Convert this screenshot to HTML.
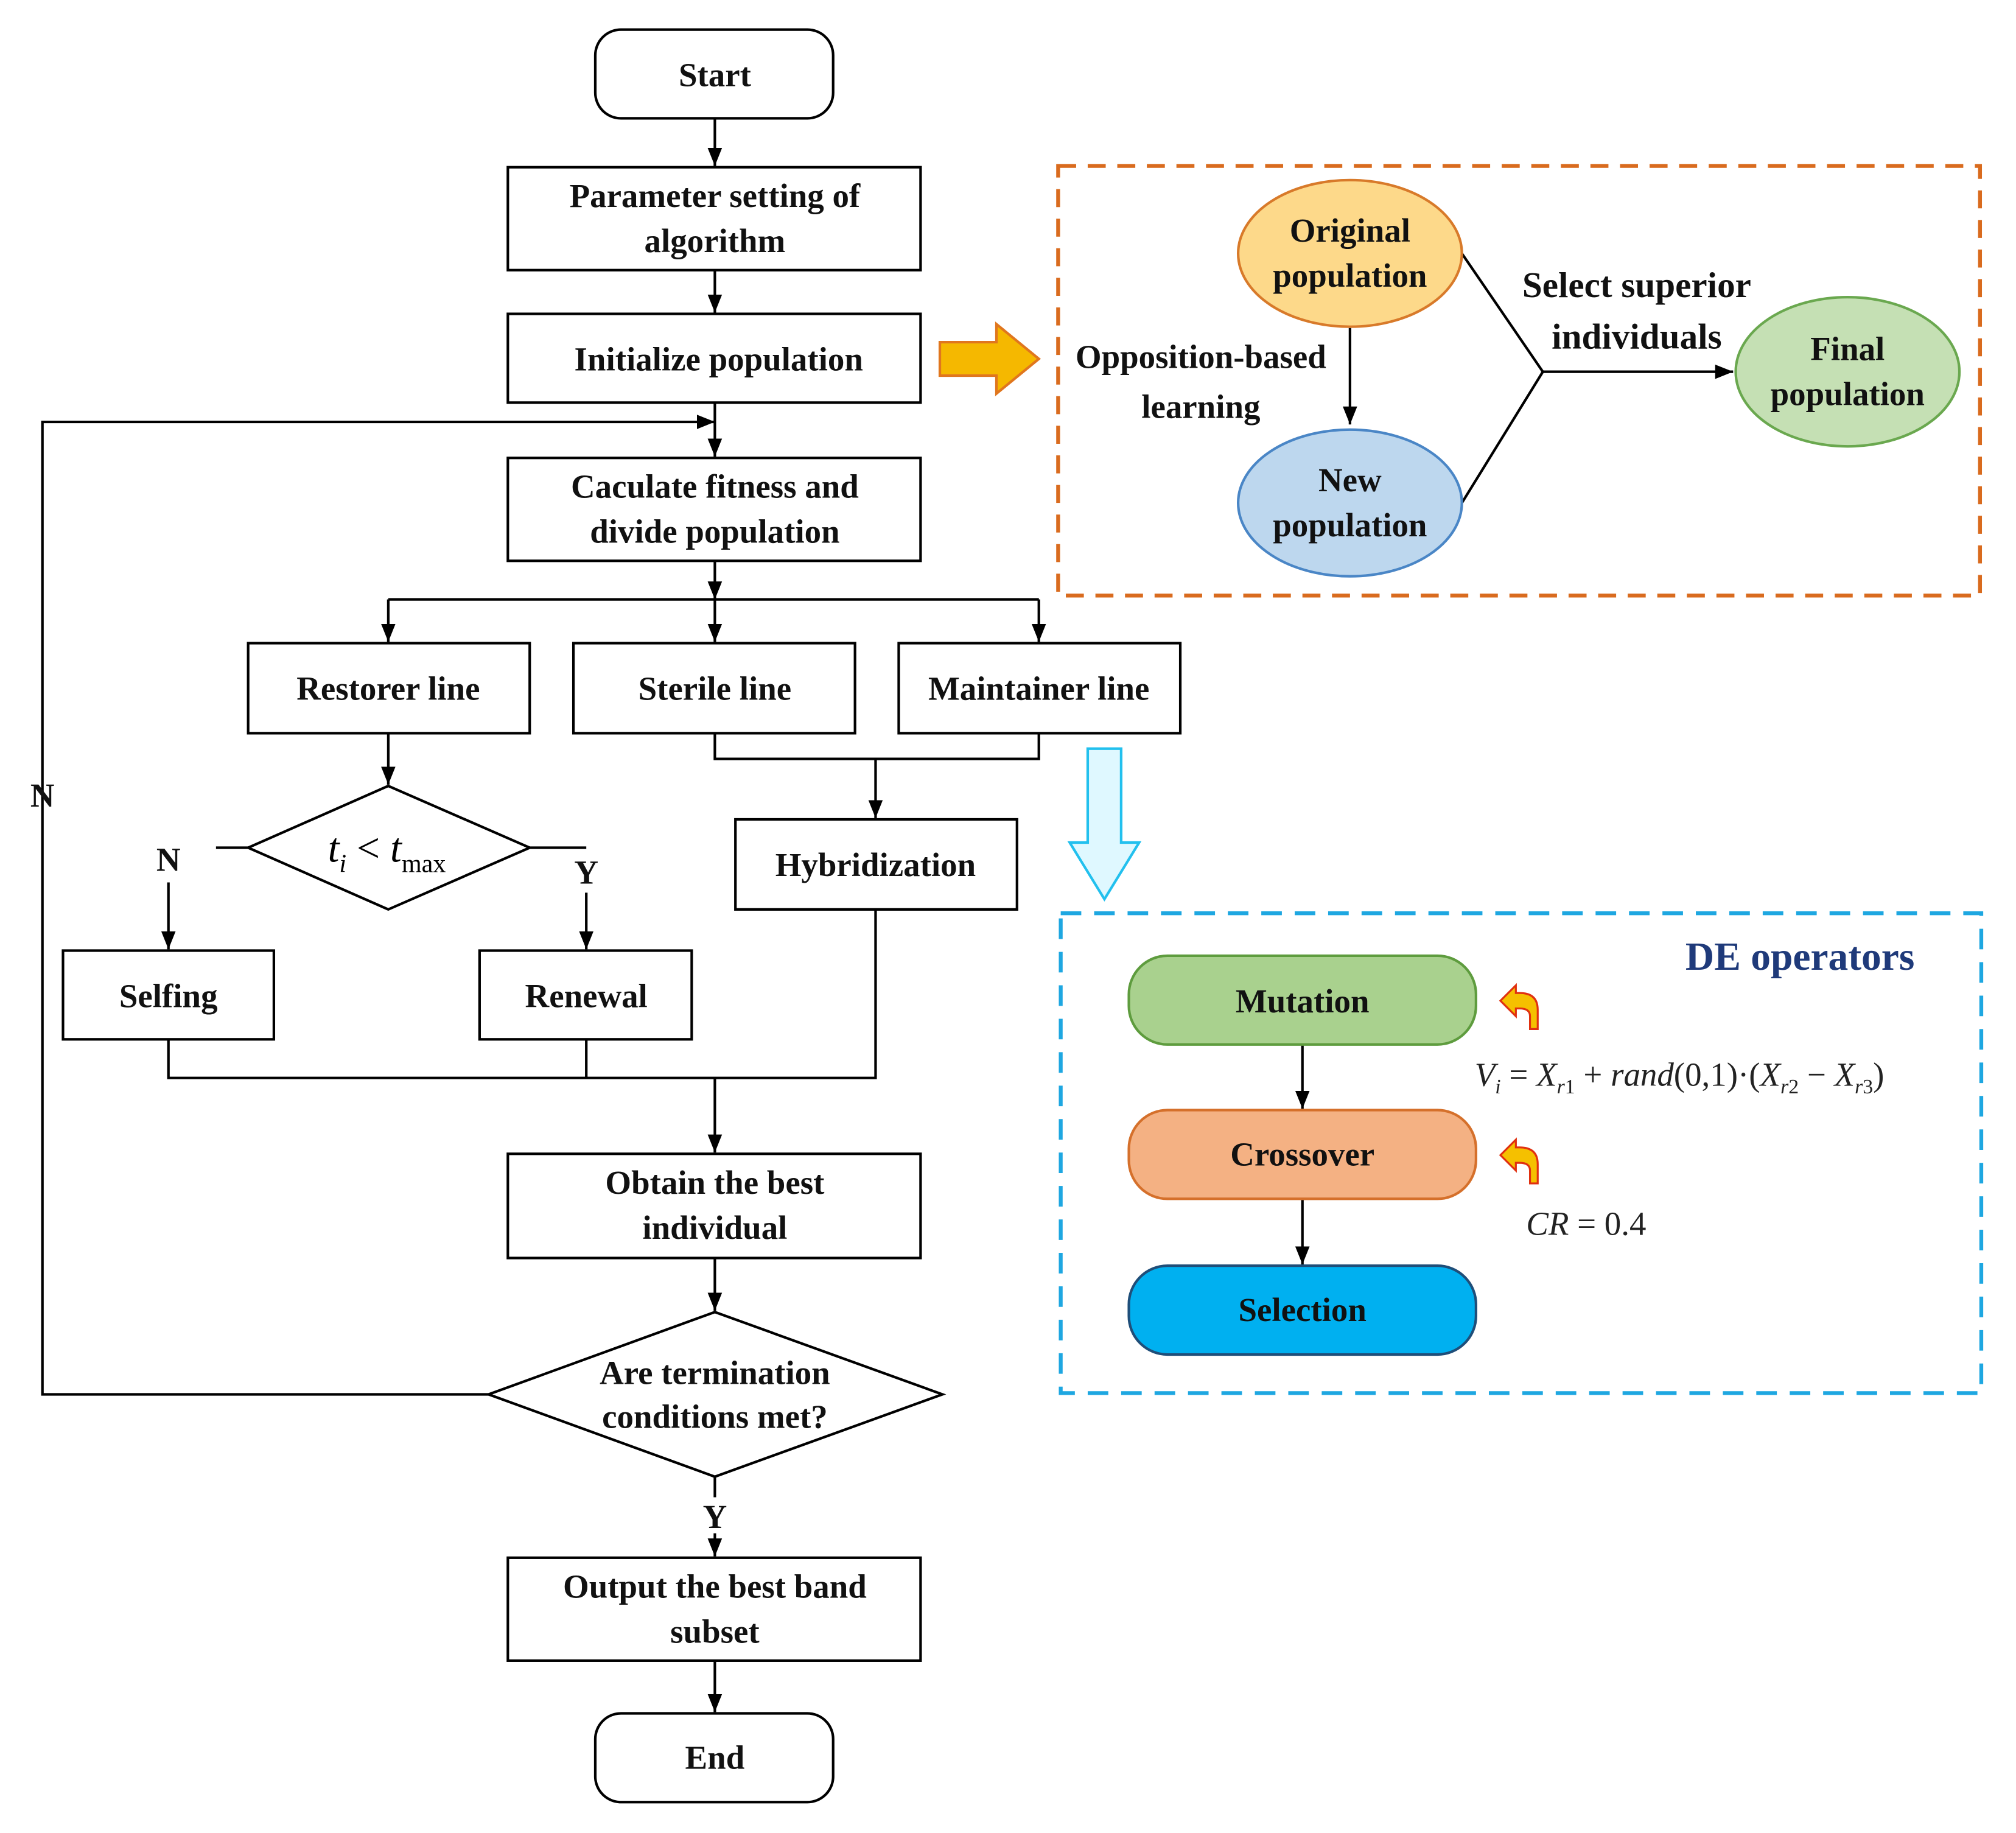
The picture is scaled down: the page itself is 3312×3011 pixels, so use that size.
<!DOCTYPE html>
<html><head><meta charset="utf-8"><style>html,body{margin:0;padding:0;background:#fff}svg{display:block}</style></head>
<body>
<svg width="3312" height="3011" viewBox="0 0 1568 1425" preserveAspectRatio="none" xmlns="http://www.w3.org/2000/svg" font-family="Liberation Serif, serif">
<defs>
<marker id="b" viewBox="0 0 10 10" refX="10" refY="5" markerWidth="14" markerHeight="14" markerUnits="userSpaceOnUse" orient="auto"><path d="M0,1L10,5L0,9z" fill="#000"/></marker>
</defs>
<g fill="none" stroke="#000" stroke-width="2">
<rect x="463" y="23" width="185" height="69" rx="20"/>
<rect x="395" y="130" width="321" height="80"/>
<rect x="395" y="244" width="321" height="69"/>
<rect x="395" y="356" width="321" height="80"/>
<rect x="193" y="500" width="219" height="70"/>
<rect x="446" y="500" width="219" height="70"/>
<rect x="699" y="500" width="219" height="70"/>
<rect x="572" y="637" width="219" height="70"/>
<path d="M302,611L412,659L302,707L193,659Z"/>
<rect x="49" y="739" width="164" height="69"/>
<rect x="373" y="739" width="165" height="69"/>
<rect x="395" y="897" width="321" height="81"/>
<path d="M556,1020L733,1084L556,1148L380,1084Z"/>
<rect x="395" y="1211" width="321" height="80"/>
<rect x="463" y="1332" width="185" height="69" rx="20"/>
<path d="M193,659H168"/>
<path d="M412,659H456"/>
<path d="M556,1148V1164"/>
<path d="M1137,197L1200,289L1137,391"/>
</g>
<g fill="none" stroke="#000" stroke-width="2" marker-end="url(#b)">
<path d="M556,92V129"/>
<path d="M556,210V243"/>
<path d="M556,313V355"/>
<path d="M380,1084H33V328H556"/>
<path d="M556,436V466"/>
<path d="M302,466V499"/>
<path d="M556,466V499"/>
<path d="M808,466H302M808,466V499"/>
<path d="M556,570V590H808V570M681,590V636"/>
<path d="M302,570V610"/>
<path d="M131,686V738"/>
<path d="M456,694V738"/>
<path d="M131,808V838H681V707M456,808V838M556,838V896"/>
<path d="M556,978V1019"/>
<path d="M556,1192V1210"/>
<path d="M556,1291V1331"/>
<path d="M1050,255V330"/>
<path d="M1200,289H1348"/>
<path d="M1013,812V862"/>
<path d="M1013,932V983"/>
</g>
<g font-weight="bold" font-size="26" text-anchor="middle" fill="#111">
<text x="556" y="67">Start</text>
<text x="556" y="161">Parameter setting of</text>
<text x="556" y="196">algorithm</text>
<text x="559" y="288">Initialize population</text>
<text x="556" y="387">Caculate fitness and</text>
<text x="556" y="422">divide population</text>
<text x="302" y="544">Restorer line</text>
<text x="556" y="544">Sterile line</text>
<text x="808" y="544">Maintainer line</text>
<text x="681" y="681">Hybridization</text>
<text x="131" y="783">Selfing</text>
<text x="456" y="783">Renewal</text>
<text x="556" y="928">Obtain the best</text>
<text x="556" y="963">individual</text>
<text x="556" y="1076">Are termination</text>
<text x="556" y="1110">conditions met?</text>
<text x="556" y="1242">Output the best band</text>
<text x="556" y="1277">subset</text>
<text x="556" y="1375">End</text>
<text x="131" y="677">N</text>
<text x="456" y="687">Y</text>
<text x="33" y="627">N</text>
<text x="556" y="1188">Y</text>
</g>
<text x="255" y="670" font-size="32" font-style="italic">t<tspan font-size="20" dy="8">i</tspan><tspan dy="-8" font-style="normal"> &lt; </tspan>t<tspan font-size="20" dy="8" font-style="normal">max</tspan></text>
<path d="M731,266H775V252L808,279L775,306V292H731Z" fill="#f5b800" stroke="#e0761e" stroke-width="2"/>
<rect x="823" y="129" width="717" height="334" fill="none" stroke="#d96b1e" stroke-width="3" stroke-dasharray="14,9"/>
<ellipse cx="1050" cy="197" rx="87" ry="57" fill="#fdd98a" stroke="#d87a2a" stroke-width="2"/>
<ellipse cx="1050" cy="391" rx="87" ry="57" fill="#bdd7ee" stroke="#4a86c6" stroke-width="2"/>
<ellipse cx="1437" cy="289" rx="87" ry="58" fill="#c5e0b4" stroke="#6aa84f" stroke-width="2"/>
<g font-weight="bold" font-size="26" text-anchor="middle" fill="#111">
<text x="1050" y="188">Original</text>
<text x="1050" y="223">population</text>
<text x="1050" y="382">New</text>
<text x="1050" y="417">population</text>
<text x="1437" y="280">Final</text>
<text x="1437" y="315">population</text>
<text x="934" y="286">Opposition-based</text>
<text x="934" y="325">learning</text>
<text x="1273" y="231" font-size="28">Select superior</text>
<text x="1273" y="271" font-size="28">individuals</text>
</g>
<path d="M846,582H872V655H886L859,699L832,655H846Z" fill="#dff8ff" stroke="#22c0ee" stroke-width="2"/>
<rect x="825" y="710" width="716" height="373" fill="none" stroke="#1ea7e1" stroke-width="3" stroke-dasharray="16,10"/>
<rect x="878" y="743" width="270" height="69" rx="30" fill="#a9d18e" stroke="#5e9c3e" stroke-width="2"/>
<rect x="878" y="863" width="270" height="69" rx="30" fill="#f4b183" stroke="#d5702b" stroke-width="2"/>
<rect x="878" y="984" width="270" height="69" rx="30" fill="#00b0f0" stroke="#1f4e79" stroke-width="2"/>
<g font-weight="bold" font-size="26" text-anchor="middle" fill="#111">
<text x="1013" y="787">Mutation</text>
<text x="1013" y="906">Crossover</text>
<text x="1013" y="1027">Selection</text>
</g>
<text x="1400" y="754" font-weight="bold" font-size="31" text-anchor="middle" fill="#1f3a7a">DE operators</text>
<g fill="#f5c000" stroke="#e03010" stroke-width="1.5">
<path d="M1196,800V785Q1196,772 1182,772H1179V766L1167,778L1179,790V784H1182Q1190,784 1190,790V800Z"/>
<path d="M1196,920V905Q1196,892 1182,892H1179V886L1167,898L1179,910V904H1182Q1190,904 1190,910V920Z"/>
</g>
<text x="1147" y="844" font-size="26" font-style="italic" fill="#222">V<tspan font-size="16" dy="6">i</tspan><tspan dy="-6" font-style="normal"> = </tspan>X<tspan font-size="16" dy="6">r</tspan><tspan font-size="16" font-style="normal">1</tspan><tspan dy="-6" font-style="normal"> + </tspan>rand<tspan font-style="normal">(0,1)·(</tspan>X<tspan font-size="16" dy="6">r</tspan><tspan font-size="16" font-style="normal">2</tspan><tspan dy="-6" font-style="normal"> − </tspan>X<tspan font-size="16" dy="6">r</tspan><tspan font-size="16" font-style="normal">3</tspan><tspan dy="-6" font-style="normal">)</tspan></text>
<text x="1187" y="960" font-size="26" font-style="italic" fill="#222">CR<tspan font-style="normal"> = 0.4</tspan></text>
</svg>
</body></html>
